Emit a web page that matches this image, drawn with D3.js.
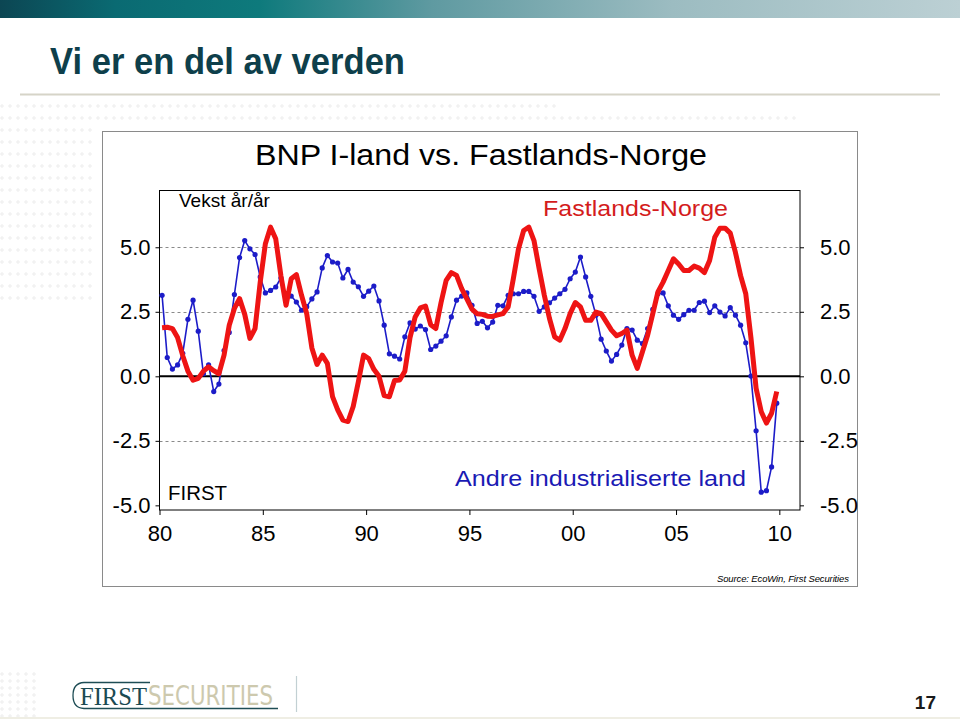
<!DOCTYPE html>
<html><head><meta charset="utf-8">
<script src="https://cdn.jsdelivr.net/npm/d3@7"></script>
<style>html,body{margin:0;padding:0;background:#fff;}svg{display:block;}</style>
</head><body>
<script>
// ---- DATA ----
const startYear = 1980;            // first quarter: 1980Q1
const seriesNames = ["Fastlands-Norge", "Andre industrialiserte land"];
// Fastlands-Norge, quarterly y/y growth 1980Q1..2009Q4
const norge = [1.88,1.9,1.85,1.5,0.8,0.2,-0.15,-0.08,0.2,0.37,0.22,0.1,0.82,1.98,2.63,3.01,2.4,1.47,1.85,3.65,
  5.14,5.78,5.33,3.9,2.75,3.78,3.94,3.14,2.43,1.1,0.46,0.82,0.5,-0.79,-1.3,-1.7,-1.75,-1.17,-0.21,0.82,
  0.69,0.27,0.0,-0.75,-0.79,-0.16,-0.14,0.2,1.5,2.3,2.65,2.72,2.0,1.85,2.85,3.72,4.02,3.91,3.4,3.0,
  2.6,2.42,2.4,2.33,2.32,2.38,2.43,2.69,3.78,4.94,5.65,5.78,5.26,4.17,3.14,2.24,1.53,1.4,1.85,2.43,
  2.86,2.69,2.17,2.17,2.49,2.43,2.11,1.79,1.57,1.66,1.79,0.82,0.31,0.95,1.59,2.43,3.27,3.65,4.1,4.55,
  4.35,4.1,4.1,4.27,4.19,4.02,4.49,5.39,5.74,5.74,5.55,4.8,3.9,3.2,1.5,-0.46,-1.37,-1.81,-1.43,-0.59];
// Andre industrialiserte land, quarterly y/y growth 1980Q1..2009Q4
const iland = [3.14,0.73,0.28,0.44,0.89,2.21,2.95,1.75,0.1,0.44,-0.59,-0.3,1.0,1.7,3.17,4.6,5.26,4.94,4.72,3.85,
  3.23,3.33,3.46,3.81,3.1,3.11,2.88,2.56,2.7,3.0,3.27,4.2,4.68,4.43,4.39,3.81,4.14,3.65,3.47,3.1,
  3.3,3.5,2.92,1.98,0.87,0.78,0.67,1.53,2.07,1.83,1.95,1.81,1.04,1.17,1.36,1.57,2.3,2.95,3.11,3.23,
  2.75,2.05,2.13,1.88,2.1,2.75,2.73,3.14,3.2,3.2,3.29,3.29,3.1,2.52,2.69,2.85,3.03,3.2,3.37,3.78,
  4.04,4.62,3.85,3.1,2.37,1.44,0.98,0.59,0.85,1.21,1.85,1.79,1.4,1.27,1.85,2.59,3.2,3.23,2.73,2.37,
  2.21,2.39,2.56,2.56,2.86,2.91,2.47,2.73,2.49,2.34,2.66,2.37,1.98,1.3,0.01,-2.11,-4.49,-4.43,-3.51,-1.04];
const xTickYears = [1980,1985,1990,1995,2000,2005,2010];
const xTickLabels = ["80","85","90","95","00","05","10"];
const yTickValues = [-5,-2.5,0,2.5,5];
const yTickLabels = ["-5.0","-2.5","0.0","2.5","5.0"];
const gridValues = [-2.5,2.5,5];

// ---- DRAW ----
const W = 960, H = 720;
const svg = d3.select("body").append("svg").attr("width", W).attr("height", H)
  .style("font-family", "Arial, 'Liberation Sans', Helvetica, sans-serif");

const defs = svg.append("defs");
const grad = defs.append("linearGradient").attr("id","topbar").attr("x1","0").attr("x2","1");
[[0,"#0c4653"],[0.12,"#0a6a72"],[0.27,"#0e7a7c"],[0.45,"#5f9aa1"],[0.7,"#9cbcc1"],[1,"#bcd0d4"]]
  .forEach(s => grad.append("stop").attr("offset", s[0]).attr("stop-color", s[1]));
svg.append("rect").attr("x",0).attr("y",0).attr("width",W).attr("height",18).attr("fill","url(#topbar)");

// faint plus pattern
const pat = svg.append("g").attr("stroke","#ededed").attr("stroke-width",1);
function plusRow(y, x0, x1){ for(let x=x0;x<=x1;x+=8){ pat.append("path").attr("d",`M${x-2},${y}h4M${x},${y-2}v4`);} }
plusRow(106,2,560); plusRow(118,2,800);
for(let y=130;y<=300;y+=12) plusRow(y,2,96);
for(let y=674;y<=716;y+=7) plusRow(y,2,34);

// slide title
svg.append("text").attr("x",50).attr("y",74).text("Vi er en del av verden")
  .attr("font-family","'Liberation Sans', Arial, sans-serif")
  .attr("font-weight","bold").attr("font-size",37).attr("fill","#0e3f4b")
  .attr("textLength",355).attr("lengthAdjust","spacingAndGlyphs");
svg.append("line").attr("x1",20).attr("x2",940).attr("y1",94.5).attr("y2",94.5)
  .attr("stroke","#d6d4c8").attr("stroke-width",2);

// chart frame
svg.append("rect").attr("x",102.5).attr("y",131.5).attr("width",755).attr("height",455)
  .attr("fill","#fff").attr("stroke","#8a8a8a").attr("stroke-width",1);
svg.append("text").attr("x",481).attr("y",165).attr("text-anchor","middle")
  .attr("font-size",30).attr("fill","#000").attr("textLength",452).attr("lengthAdjust","spacingAndGlyphs")
  .text("BNP I-land vs. Fastlands-Norge");

const L = 159.5, R = 800, T = 190.5, B = 510;
const x = d3.scaleLinear().domain([1980, 2011]).range([L, R]);
const y = d3.scaleLinear().domain([-5.18, 7.2]).range([B, T]);
const qDate = i => startYear + (i + 0.5) / 4;

// gridlines
svg.append("g").selectAll("line").data(gridValues).join("line")
  .attr("x1",L).attr("x2",R).attr("y1",d=>Math.round(y(d))+0.5).attr("y2",d=>Math.round(y(d))+0.5)
  .attr("stroke","#8a8a8a").attr("stroke-width",1).attr("stroke-dasharray","3,3");

// axes
const fmtY = d => yTickLabels[yTickValues.indexOf(d)];
const axL = svg.append("g").attr("transform",`translate(${L},0)`)
  .call(d3.axisLeft(y).tickValues(yTickValues).tickFormat(fmtY).tickSize(4).tickPadding(5));
const axR = svg.append("g").attr("transform",`translate(${R},0)`)
  .call(d3.axisRight(y).tickValues(yTickValues).tickFormat(fmtY).tickSize(4).tickPadding(16));
const axB = svg.append("g").attr("transform",`translate(0,${B})`)
  .call(d3.axisBottom(x).tickValues(xTickYears).tickFormat((d,i)=>xTickLabels[i]).tickSize(5).tickPadding(10));
[axL,axR,axB].forEach(a => {
  a.select(".domain").remove();
  a.selectAll("line").attr("stroke","#000");
  a.selectAll("text").attr("font-size",22).attr("fill","#000")
    .attr("font-family","Arial, 'Liberation Sans', sans-serif");
});
// plot border
svg.append("rect").attr("x",L).attr("y",T).attr("width",R-L).attr("height",B-T)
  .attr("fill","none").attr("stroke","#000").attr("stroke-width",1);
// zero line
svg.append("line").attr("x1",L).attr("x2",R).attr("y1",y(0)).attr("y2",y(0))
  .attr("stroke","#000").attr("stroke-width",2);

// series
const line = d3.line().x((d,i)=>x(qDate(i))).y(d=>y(d));
const blue = "#1c1cc8", red = "#ee1414";
svg.append("path").datum(iland).attr("d",line).attr("fill","none")
  .attr("stroke",blue).attr("stroke-width",1.6).attr("stroke-linejoin","round");
svg.append("g").selectAll("circle").data(iland).join("circle")
  .attr("cx",(d,i)=>x(qDate(i))).attr("cy",d=>y(d)).attr("r",2.6).attr("fill",blue);
svg.append("path").datum(norge).attr("d",line).attr("fill","none")
  .attr("stroke",red).attr("stroke-width",5).attr("stroke-linejoin","round").attr("stroke-linecap","butt");

// labels inside plot
svg.append("text").attr("x",179).attr("y",206.5).attr("font-size",19).attr("fill","#000").text("Vekst år/år");
svg.append("text").attr("x",543).attr("y",216).attr("font-size",22).attr("fill","#d41c1c")
  .attr("textLength",185).attr("lengthAdjust","spacingAndGlyphs").text(seriesNames[0]);
svg.append("text").attr("x",455).attr("y",485.5).attr("font-size",22).attr("fill","#1a1ab4")
  .attr("textLength",291).attr("lengthAdjust","spacingAndGlyphs").text(seriesNames[1]);
svg.append("text").attr("x",168).attr("y",500).attr("font-size",20).attr("fill","#000")
  .attr("textLength",59).attr("lengthAdjust","spacingAndGlyphs").text("FIRST");
svg.append("text").attr("x",849).attr("y",581.5).attr("text-anchor","end").attr("font-size",9.5)
  .attr("font-style","italic").attr("fill","#000").attr("textLength",132).attr("lengthAdjust","spacing")
  .text("Source: EcoWin, First Securities");

// footer logo
const logo = svg.append("g");
logo.append("path").attr("d","M150,682.5 L84,682.5 Q73,683 73,695.5 Q73,708 84,708.5 L278,708.5")
  .attr("fill","none").attr("stroke","#1e4d55").attr("stroke-width",1.3);
logo.append("text").attr("x",80).attr("y",705).attr("font-family","'Liberation Serif','Times New Roman',serif")
  .attr("font-size",26).attr("fill","#1b4a52").attr("textLength",67).attr("lengthAdjust","spacingAndGlyphs").text("FIRST");
logo.append("text").attr("x",148).attr("y",705).attr("font-family","'Liberation Sans Narrow','DejaVu Sans Condensed',sans-serif")
  .attr("font-size",26).attr("fill","#cdc9ae").attr("textLength",125).attr("lengthAdjust","spacingAndGlyphs").text("SECURITIES");
svg.append("line").attr("x1",296.5).attr("x2",296.5).attr("y1",676).attr("y2",712)
  .attr("stroke","#c2d0d3").attr("stroke-width",1.2);
svg.append("text").attr("x",936).attr("y",709).attr("text-anchor","end").attr("font-weight","bold")
  .attr("font-size",19).attr("fill","#1a1a1a").text("17");
svg.append("line").attr("x1",0).attr("x2",W).attr("y1",718).attr("y2",718).attr("stroke","#efeee4").attr("stroke-width",2);
</script>
</body></html>
